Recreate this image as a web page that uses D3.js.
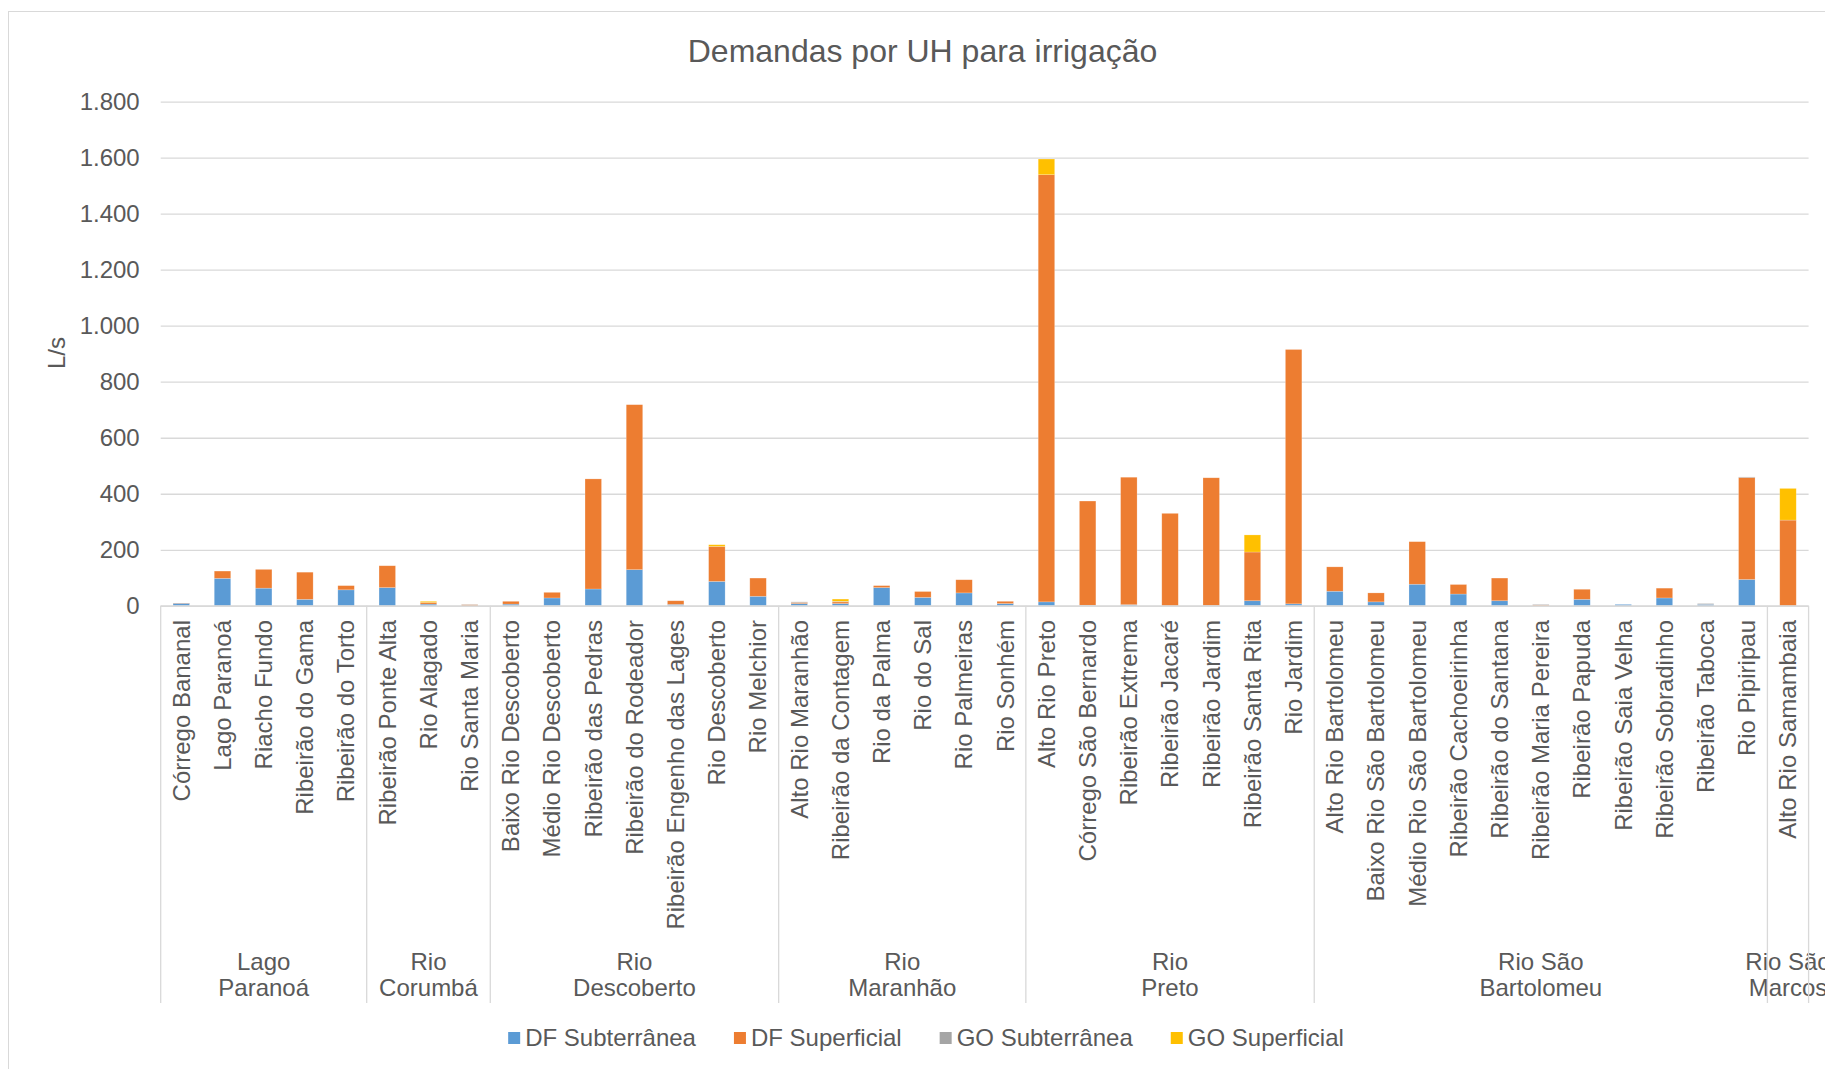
<!DOCTYPE html>
<html>
<head>
<meta charset="utf-8">
<title>Demandas por UH para irrigação</title>
<script src="https://d3js.org/d3.v7.min.js"></script>
<style>
  body { margin: 0; background: #fff; }
  svg { display: block; font-family: "Liberation Sans", Arial, sans-serif; }
</style>
</head>
<body>
<div id="chart"></div>
<script>
"use strict";

// unidades hidrográficas (categorias) na ordem do gráfico
var categorias = [
  "Córrego Bananal", "Lago Paranoá", "Riacho Fundo", "Ribeirão do Gama", "Ribeirão do Torto",
  "Ribeirão Ponte Alta", "Rio Alagado", "Rio Santa Maria",
  "Baixo Rio Descoberto", "Médio Rio Descoberto", "Ribeirão das Pedras", "Ribeirão do Rodeador",
  "Ribeirão Engenho das Lages", "Rio Descoberto", "Rio Melchior",
  "Alto Rio Maranhão", "Ribeirão da Contagem", "Rio da Palma", "Rio do Sal", "Rio Palmeiras", "Rio Sonhém",
  "Alto Rio Preto", "Córrego São Bernardo", "Ribeirão Extrema", "Ribeirão Jacaré", "Ribeirão Jardim",
  "Ribeirão Santa Rita", "Rio Jardim",
  "Alto Rio Bartolomeu", "Baixo Rio São Bartolomeu", "Médio Rio São Bartolomeu", "Ribeirão Cachoeirinha",
  "Ribeirão do Santana", "Ribeirão Maria Pereira", "Ribeirão Papuda", "Ribeirão Saia Velha",
  "Ribeirão Sobradinho", "Ribeirão Taboca", "Rio Pipiripau",
  "Alto Rio Samambaia"
];

// bacias (segundo nível do eixo) e quantas UH cada uma tem
var bacias = [["Lago", "Paranoá"], ["Rio", "Corumbá"], ["Rio", "Descoberto"], ["Rio", "Maranhão"],
  ["Rio", "Preto"], ["Rio São", "Bartolomeu"], ["Rio São", "Marcos"]];
var baciasQtd = [5, 3, 7, 6, 7, 11, 1];

// L/s por série
var dfSubterranea = [9, 98, 63, 23, 57, 65, 6, 0, 6, 28, 60, 129, 5, 87, 34, 8, 8, 65, 30, 46, 8,
  14, 2, 4, 0, 1, 18, 7, 52, 14, 77, 42, 18, 0, 23, 5, 28, 5, 94, 0];
var dfSuperficial = [1, 26, 67, 97, 15, 78, 6, 4, 10, 20, 393, 589, 13, 125, 65, 4, 6, 7, 21, 47, 8,
  1525, 372, 455, 330, 456, 174, 908, 87, 32, 152, 34, 81, 3, 36, 0, 35, 0, 364, 306];
var goSubterranea = [0, 0, 0, 0, 0, 0, 0, 1, 0, 0, 0, 0, 0, 0, 0, 2, 2, 0, 0, 0, 0,
  0, 0, 0, 0, 0, 0, 0, 0, 0, 0, 0, 0, 2, 0, 0, 0, 3, 2, 0];
var goSuperficial = [0, 0, 0, 0, 0, 0, 4, 0, 0, 0, 0, 0, 0, 6, 0, 0, 8, 0, 0, 0, 0,
  56, 0, 0, 0, 0, 61, 0, 0, 0, 0, 0, 0, 0, 0, 0, 0, 0, 0, 113];

var series = ["DF Subterrânea", "DF Superficial", "GO Subterrânea", "GO Superficial"];
var cores = ["#5B9BD5", "#ED7D31", "#A5A5A5", "#FFC000"];

var yTicks = [0, 200, 400, 600, 800, 1000, 1200, 1400, 1600, 1800];

var W = 1825, H = 1069;
var plot = { left: 160.7, right: 1808.6, top: 101.6, bottom: 605.8 };
var corTexto = "#595959", corGrade = "#d9d9d9";

var svg = d3.select("#chart").append("svg")
  .attr("width", W)
  .attr("height", H);

// borda da área do gráfico
svg.append("rect")
  .attr("x", 8.5).attr("y", 11.5)
  .attr("width", 1900).attr("height", 1100)
  .attr("fill", "#fff")
  .attr("stroke", corGrade);

svg.append("text")
  .attr("x", 922.5).attr("y", 62)
  .attr("text-anchor", "middle")
  .attr("font-size", 32)
  .attr("fill", corTexto)
  .text("Demandas por UH para irrigação");

var x = d3.scaleBand()
  .domain(categorias)
  .range([plot.left, plot.right])
  .paddingInner(0.6)
  .paddingOuter(0.3);

var y = d3.scaleLinear()
  .domain([0, 1800])
  .range([plot.bottom, plot.top]);

var ptBR = d3.formatLocale({ decimal: ",", thousands: ".", grouping: [3], currency: ["R$", ""] });
var fmt = ptBR.format(",d");

// linhas de grade
var yAxis = d3.axisLeft(y)
  .tickValues(yTicks)
  .tickSize(-(plot.right - plot.left))
  .tickPadding(21)
  .tickFormat(fmt);

var gy = svg.append("g")
  .attr("transform", "translate(" + plot.left + ",0)")
  .call(yAxis);
gy.select(".domain").remove();
gy.selectAll(".tick line").attr("stroke", corGrade).attr("stroke-width", 1.3);
gy.selectAll(".tick text")
  .attr("font-size", 24)
  .attr("fill", corTexto)
  .attr("font-family", "Liberation Sans, Arial, sans-serif");

svg.append("text")
  .attr("transform", "translate(57,353) rotate(-90)")
  .attr("text-anchor", "middle")
  .attr("dy", "0.35em")
  .attr("font-size", 24)
  .attr("fill", corTexto)
  .text("L/s");

// barras empilhadas
var linhas = categorias.map(function (c, i) {
  return {
    cat: c,
    "DF Subterrânea": dfSubterranea[i],
    "DF Superficial": dfSuperficial[i],
    "GO Subterrânea": goSubterranea[i],
    "GO Superficial": goSuperficial[i]
  };
});
var pilha = d3.stack().keys(series)(linhas);

svg.append("g").selectAll("g")
  .data(pilha)
  .join("g")
    .attr("fill", function (d, i) { return cores[i]; })
  .selectAll("rect")
  .data(function (d) { return d.filter(function (p) { return p[1] > p[0]; }); })
  .join("rect")
    .attr("x", function (d) { return x(d.data.cat); })
    .attr("width", x.bandwidth())
    .attr("y", function (d) { return y(d[1]); })
    .attr("height", function (d) { return y(d[0]) - y(d[1]); })
    .attr("stroke", "#fff")
    .attr("stroke-opacity", 0.35)
    .attr("stroke-width", 0.6);

// eixo das categorias
svg.append("line")
  .attr("x1", plot.left).attr("x2", plot.right)
  .attr("y1", plot.bottom).attr("y2", plot.bottom)
  .attr("stroke", corGrade).attr("stroke-width", 1.3);

svg.append("g").selectAll("text")
  .data(categorias)
  .join("text")
    .attr("transform", function (d) {
      return "translate(" + (x(d) + x.bandwidth() / 2) + ",620) rotate(-90)";
    })
    .attr("text-anchor", "end")
    .attr("dy", "0.35em")
    .attr("font-size", 24)
    .attr("fill", corTexto)
    .text(function (d) { return d; });

// divisões e nomes das bacias
var step = x.step();
var inicio = 0;
var limites = [plot.left];
var gBacias = svg.append("g");
bacias.forEach(function (b, k) {
  var x0 = plot.left + inicio * step;
  var x1 = plot.left + (inicio + baciasQtd[k]) * step;
  limites.push(x1);
  var t = gBacias.append("text")
    .attr("text-anchor", "middle")
    .attr("font-size", 24)
    .attr("fill", corTexto);
  b.forEach(function (linha, j) {
    t.append("tspan")
      .attr("x", (x0 + x1) / 2)
      .attr("y", 970 + j * 26)
      .text(linha);
  });
  inicio += baciasQtd[k];
});

svg.append("g").selectAll("line")
  .data(limites)
  .join("line")
    .attr("x1", function (d) { return d; })
    .attr("x2", function (d) { return d; })
    .attr("y1", plot.bottom)
    .attr("y2", 1003)
    .attr("stroke", corGrade)
    .attr("stroke-width", 1.3);

// legenda
var leg = svg.append("g");
var lx = 0;
series.forEach(function (s, i) {
  var item = leg.append("g").attr("transform", "translate(" + lx + ",0)");
  item.append("rect")
    .attr("x", 0).attr("y", 1032)
    .attr("width", 12).attr("height", 12)
    .attr("fill", cores[i]);
  var t = item.append("text")
    .attr("x", 17).attr("y", 1046)
    .attr("font-size", 24)
    .attr("fill", corTexto)
    .text(s);
  lx += 17 + t.node().getComputedTextLength() + 38;
});
var legW = lx - 38;
leg.attr("transform", "translate(" + (926 - legW / 2) + ",0)");
</script>
</body>
</html>
